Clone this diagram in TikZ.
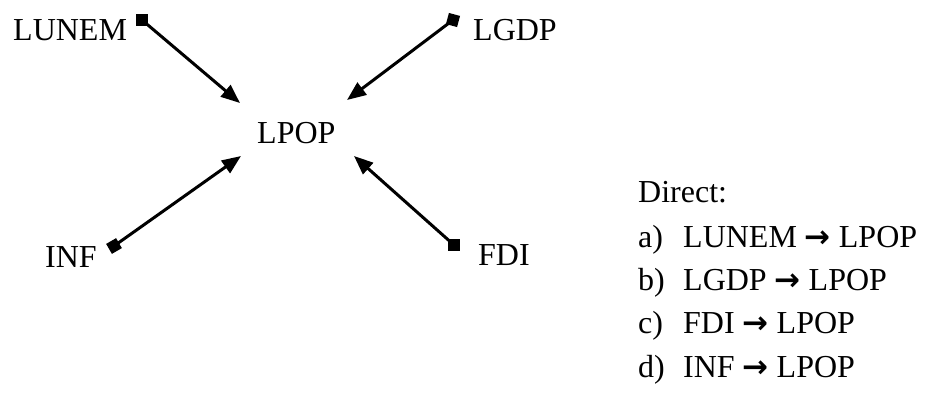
\documentclass[tikz,border=0pt]{standalone}
\usepackage{fontspec}
\setmainfont{Liberation Serif}
\newfontfamily\arrfont{DejaVu Sans}
\usetikzlibrary{arrows.meta}
\tikzset{
  lbl/.style={inner sep=0pt, anchor=base west, font=\fontsize{32}{38}\selectfont},
  sq/.style={fill=black, inner sep=0pt, minimum size=11.5pt, draw=none},
  conn/.style={line width=3pt, -{Triangle[length=19pt, width=15pt]}},
}
\newcommand{\rarr}{{\arrfont\bfseries\fontsize{31}{34}\selectfont →}}
\begin{document}
\begin{tikzpicture}[x=1pt, y=-1pt]
\useasboundingbox (0,0) rectangle (927,394);
% labels
\node[lbl] (lunem) at (13,40) {LUNEM};
\node[lbl] (lgdp) at (473,40) {LGDP};
\node[lbl] (lpop) at (257,143) {LPOP};
\node[lbl] (inf) at (45,267) {INF};
\node[lbl] (fdi) at (478,265) {FDI};
% squares
\node[sq] (s1) at (142,20) {};
\node[sq, rotate=-15] (s2) at (453,20) {};
\node[sq, rotate=30] (s3) at (114,246) {};
\node[sq] (s4) at (454,245) {};
% arrow tips
\coordinate (t1) at (240,103);
\coordinate (t2) at (347,100);
\coordinate (t3) at (241,156);
\coordinate (t4) at (354,156);
\draw[conn] (s1.center) -- (t1);
\draw[conn] (s2.center) -- (t2);
\draw[conn] (s3.center) -- (t3);
\draw[conn] (s4.center) -- (t4);
% list
\node[lbl] (direct) at (638,202) {Direct:};
\node[lbl] (la) at (638,247) {a)};
\node[lbl] (ia) at (683,247) {LUNEM \rarr{} LPOP};
\node[lbl] (lb) at (638,290) {b)};
\node[lbl] (ib) at (683,290) {LGDP \rarr{} LPOP};
\node[lbl] (lc) at (638,333) {c)};
\node[lbl] (ic) at (683,333) {FDI \rarr{} LPOP};
\node[lbl] (ld) at (638,377) {d)};
\node[lbl] (id) at (683,377) {INF \rarr{} LPOP};
\end{tikzpicture}
\end{document}
